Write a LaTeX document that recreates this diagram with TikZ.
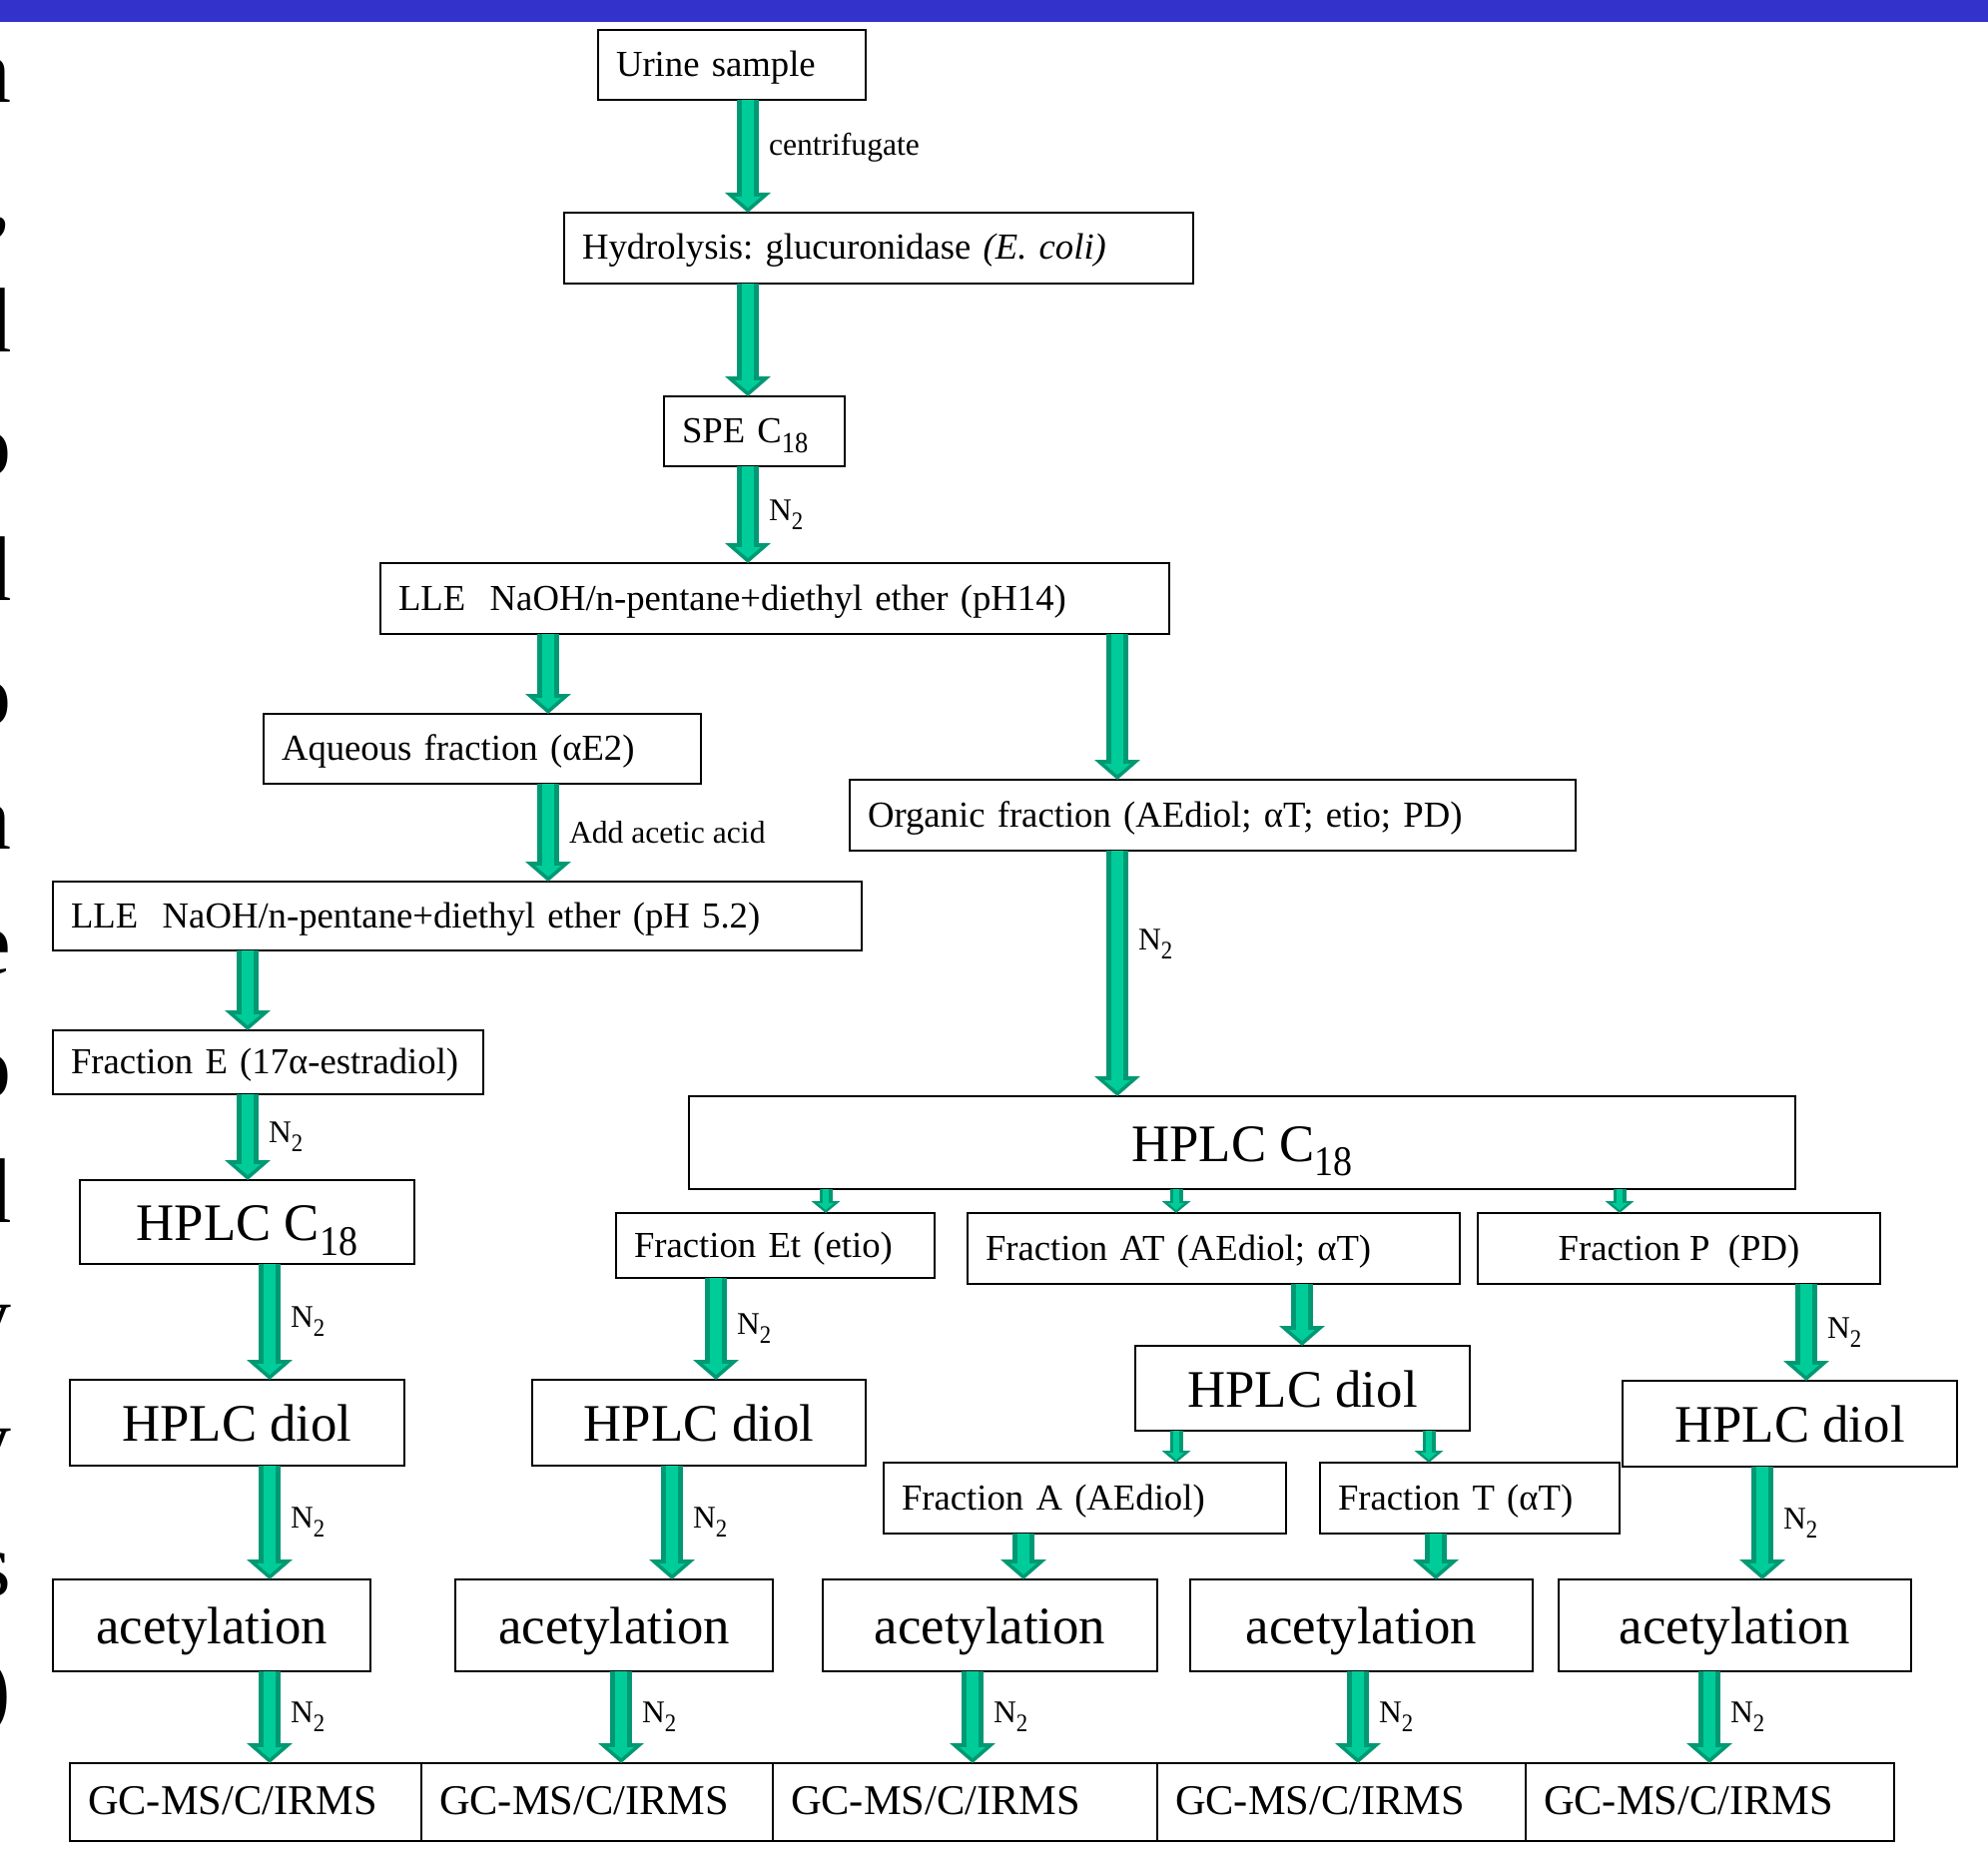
\documentclass[tikz,border=0pt]{standalone}
\usepackage{fontspec}
\setmainfont{Liberation Serif}
\usepackage{graphicx}
\usepackage{tikz}
\usetikzlibrary{arrows.meta}
\definecolor{flowlight}{HTML}{00CC99}
\definecolor{flowdark}{HTML}{009973}
\definecolor{titleblue}{HTML}{3333CC}
\newcommand{\lowsub}[1]{\raisebox{-0.28em}{\scalebox{0.72}[0.8]{#1}}}
\frenchspacing

\begin{document}
\begin{tikzpicture}[x=0.5pt,y=-0.5pt,
    box/.style={draw,line width=0.8pt,fill=white,anchor=north west,inner xsep=9pt,inner ysep=0pt,outer sep=0pt,
      font=\fontsize{18.35pt}{22pt}\selectfont,text height=16pt,text depth=4.5pt},
    lbox/.style 2 args={box,align=left,text width=#1,minimum height=#2},
    cbox/.style 2 args={box,align=center,minimum width=#1,minimum height=#2},
    bigtext/.style={font=\fontsize{26.4pt}{30pt}\selectfont,text height=24.8pt,text depth=6.3pt},
    gctext/.style={font=\fontsize{21.2pt}{25pt}\selectfont,text height=17.1pt,text depth=5.1pt},
    flow/.style={draw=flowdark,line width=11pt,-{Triangle[width=23pt,length=10pt,line width=0pt]},
      postaction={draw=flowlight,line width=6pt,shorten >=2.5pt,-{Triangle[width=13pt,length=5.5pt,line width=0pt]}}},
    flowsmall/.style={draw=flowdark,line width=6.5pt,-{Triangle[width=14.5pt,length=6pt,line width=0pt]},
      postaction={draw=flowlight,line width=3pt,shorten >=1.5pt,-{Triangle[width=8pt,length=3.5pt,line width=0pt]}}},
    lbl/.style={anchor=west,inner sep=0pt,xshift=5pt,font=\fontsize{15.8pt}{18pt}\selectfont}]
      \useasboundingbox (0,0) rectangle (1991,1862);
      \fill[white] (0,0) rectangle (1991,1862);
      \fill[titleblue] (0,0) rectangle (1991,22);
      \foreach \ch [count=\i from 0] in {n,{,},d,o,d,o,n,e,o,d,y,y,s,)}
        \node[anchor=base east,inner sep=0pt,font=\fontsize{46pt}{50pt}\selectfont] (margin\i) at (12,103+124.6*\i) {\ch};

      \node[lbox={116pt}{35pt}] (urine) at (599,30) {Urine sample};
      \node[lbox={297pt}{35.5pt}] (hydro) at (565,213) {Hydrolysis: glucuronidase \textit{(E. coli)}};
      \node[lbox={72.5pt}{35pt}] (spe) at (665,397) {SPE C\lowsub{18}};
      \node[lbox={377pt}{35.5pt}] (llebase) at (381,564) {LLE\ \ NaOH/n-pentane+diethyl ether (pH14)};
      \node[lbox={201pt}{35pt}] (aqueous) at (264,715) {Aqueous fraction (αE2)};
      \node[lbox={345.5pt}{35.5pt}] (organic) at (851,781) {Organic fraction (AEdiol; αT; etio; PD)};
      \node[lbox={387pt}{34.5pt}] (lleacid) at (53,883) {LLE\ \ NaOH/n-pentane+diethyl ether (pH 5.2)};
      \node[lbox={197.5pt}{32pt}] (fracE) at (53,1032) {Fraction E (17α-estradiol)};
      \node[cbox={167.5pt}{42pt},bigtext] (hplcE) at (80,1182) {HPLC C\lowsub{18}};
      \node[cbox={554pt}{46.5pt},bigtext] (hplcmain) at (690,1098) {HPLC C\lowsub{18}};
      \node[lbox={141.5pt}{32.5pt}] (fracEt) at (617,1215) {Fraction Et (etio)};
      \node[lbox={228.5pt}{35.5pt}] (fracAT) at (969,1215) {Fraction AT (AEdiol; αT)};
      \node[cbox={201.5pt}{35.5pt}] (fracP) at (1480,1215) {Fraction P\ \ (PD)};
      \node[cbox={167.5pt}{43pt},bigtext] (diolE) at (70,1382) {HPLC diol};
      \node[cbox={167pt}{43pt},bigtext] (diolEt) at (533,1382) {HPLC diol};
      \node[cbox={167.5pt}{42.5pt},bigtext] (diolAT) at (1137,1348) {HPLC diol};
      \node[cbox={167.5pt}{43pt},bigtext] (diolP) at (1625,1383) {HPLC diol};
      \node[lbox={183.5pt}{35.5pt}] (fracA) at (885,1465) {Fraction A (AEdiol)};
      \node[lbox={132pt}{35.5pt}] (fracT) at (1322,1465) {Fraction T (αT)};
      \node[cbox={159pt}{46pt},bigtext] (acetE) at (53,1582) {acetylation};
      \node[cbox={159pt}{46pt},bigtext] (acetEt) at (456,1582) {acetylation};
      \node[cbox={167.5pt}{46pt},bigtext] (acetA) at (824,1582) {acetylation};
      \node[cbox={171.5pt}{46pt},bigtext] (acetT) at (1192,1582) {acetylation};
      \node[cbox={176.5pt}{46pt},bigtext] (acetP) at (1561,1582) {acetylation};
      \node[lbox={158pt}{39pt},gctext] (gcE) at (70,1766) {GC-MS/C/IRMS};
      \node[lbox={158pt}{39pt},gctext] (gcEt) at (422,1766) {GC-MS/C/IRMS};
      \node[lbox={174.5pt}{39pt},gctext] (gcA) at (774,1766) {GC-MS/C/IRMS};
      \node[lbox={166.5pt}{39pt},gctext] (gcT) at (1159,1766) {GC-MS/C/IRMS};
      \node[lbox={166.5pt}{39pt},gctext] (gcP) at (1528,1766) {GC-MS/C/IRMS};

      \path (urine.south -| 749,0) edge[flow] node[lbl,pos=.42] {centrifugate} (hydro.north -| 749,0)
      (hydro.south -| 749,0) edge[flow] (spe.north -| 749,0)
      (spe.south -| 749,0) edge[flow] node[lbl] {N\lowsub{2}} (llebase.north -| 749,0)
      (llebase.south -| 549,0) edge[flow] (aqueous.north -| 549,0)
      (llebase.south -| 1119,0) edge[flow] (organic.north -| 1119,0)
      (aqueous.south -| 549,0) edge[flow] node[lbl] {Add acetic acid} (lleacid.north -| 549,0)
      (lleacid.south -| 248,0) edge[flow] (fracE.north -| 248,0)
      (fracE.south -| 248,0) edge[flow] node[lbl] {N\lowsub{2}} (hplcE.north -| 248,0)
      (organic.south -| 1119,0) edge[flow] node[lbl,pos=.38] {N\lowsub{2}} (hplcmain.north -| 1119,0);
      \path (hplcE.south -| 270,0) edge[flow] node[lbl] {N\lowsub{2}} (diolE.north -| 270,0)
      (diolE.south -| 270,0) edge[flow] node[lbl] {N\lowsub{2}} (acetE.north -| 270,0)
      (acetE.south -| 270,0) edge[flow] node[lbl] {N\lowsub{2}} (gcE.north -| 270,0);
      \path (hplcmain.south -| 827,0) edge[flowsmall] (fracEt.north -| 827,0)
      (hplcmain.south -| 1178,0) edge[flowsmall] (fracAT.north -| 1178,0)
      (hplcmain.south -| 1622,0) edge[flowsmall] (fracP.north -| 1622,0)
      (fracEt.south -| 717,0) edge[flow] node[lbl] {N\lowsub{2}} (diolEt.north -| 717,0)
      (diolEt.south -| 673,0) edge[flow] node[lbl] {N\lowsub{2}} (acetEt.north -| 673,0)
      (acetEt.south -| 622,0) edge[flow] node[lbl] {N\lowsub{2}} (gcEt.north -| 622,0);
      \path (fracAT.south -| 1304,0) edge[flow] (diolAT.north -| 1304,0)
      (diolAT.south -| 1178,0) edge[flowsmall] (fracA.north -| 1178,0)
      (diolAT.south -| 1431,0) edge[flowsmall] (fracT.north -| 1431,0)
      (fracA.south -| 1025,0) edge[flow] (acetA.north -| 1025,0)
      (fracT.south -| 1438,0) edge[flow] (acetT.north -| 1438,0)
      (acetA.south -| 974,0) edge[flow] node[lbl] {N\lowsub{2}} (gcA.north -| 974,0)
      (acetT.south -| 1360,0) edge[flow] node[lbl] {N\lowsub{2}} (gcT.north -| 1360,0);
      \path (fracP.south -| 1809,0) edge[flow] node[lbl] {N\lowsub{2}} (diolP.north -| 1809,0)
      (diolP.south -| 1765,0) edge[flow] node[lbl] {N\lowsub{2}} (acetP.north -| 1765,0)
      (acetP.south -| 1712,0) edge[flow] node[lbl] {N\lowsub{2}} (gcP.north -| 1712,0);
\end{tikzpicture}
\end{document}
